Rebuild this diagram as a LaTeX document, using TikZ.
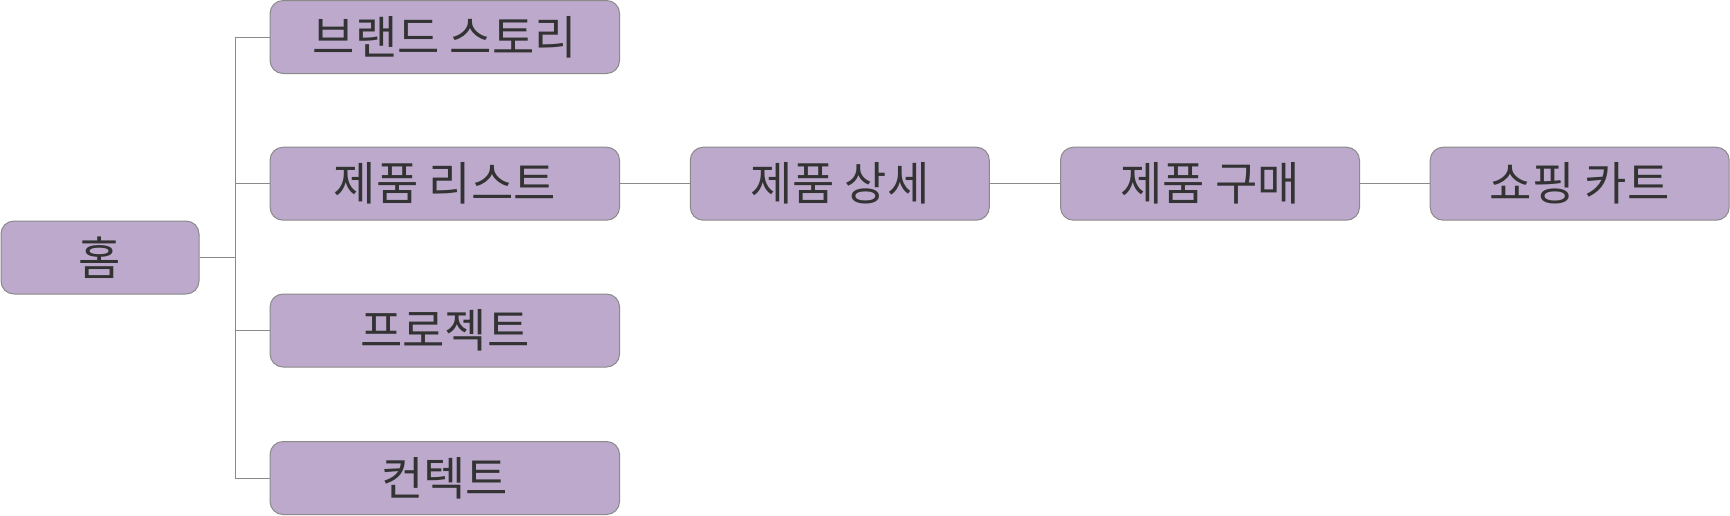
\documentclass[tikz,border=0pt]{standalone}
\usepackage{fontspec}
\newfontfamily\krfont{Noto Sans CJK KR}
\definecolor{boxfill}{HTML}{BCA9CC}
\definecolor{boxline}{HTML}{8A8A8A}
\definecolor{txtcol}{HTML}{333333}
\begin{document}
\begin{tikzpicture}[x=1pt,y=-1pt,
  menubox/.style={draw=boxline, line width=1pt, fill=boxfill, rounded corners=13pt,
    inner sep=0pt, text=txtcol, font=\krfont\fontsize{46}{50}\selectfont},
  homebox/.style={menubox, minimum width=198pt, minimum height=73pt},
  widebox/.style={menubox, minimum width=349.5pt, minimum height=73pt},
  flowbox/.style={menubox, minimum width=299pt, minimum height=73pt},
  link/.style={draw=boxline, line width=1pt}]
\path[use as bounding box] (0,0) rectangle (1730,515);

\node[homebox] (home) at (100,257.5) {홈};
\node[widebox] (brand) at (444.8,37) {브랜드 스토리};
\node[widebox] (list) at (444.8,183.7) {제품 리스트};
\node[widebox] (project) at (444.8,330.5) {프로젝트};
\node[widebox] (contact) at (444.8,478) {컨텍트};
\node[flowbox] (detail) at (839.8,183.7) {제품 상세};
\node[flowbox] (buy) at (1210,183.7) {제품 구매};
\node[flowbox] (cart) at (1579.7,183.7) {쇼핑 카트};

\coordinate (hub) at (235.5,257.5);
\draw[link] (home.east) -- (hub);
\draw[link] (hub) |- (brand.west);
\draw[link] (hub) |- (list.west);
\draw[link] (hub) |- (project.west);
\draw[link] (hub) |- (contact.west);
\draw[link] (list.east) -- (detail.west);
\draw[link] (detail.east) -- (buy.west);
\draw[link] (buy.east) -- (cart.west);
\end{tikzpicture}
\end{document}
